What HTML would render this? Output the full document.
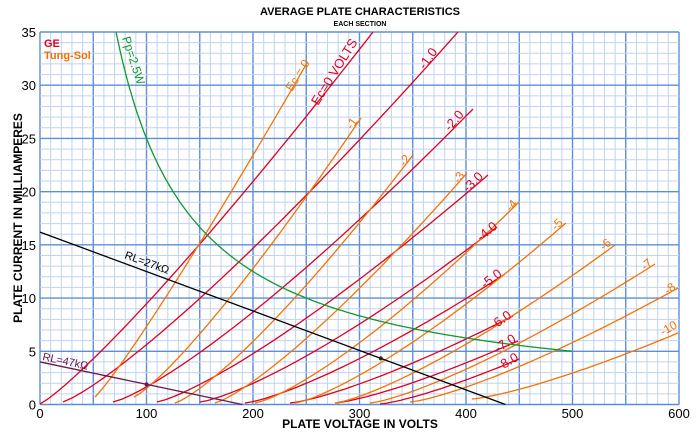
<!DOCTYPE html>
<html><head><meta charset="utf-8"><style>
body{margin:0;background:#fff;width:700px;height:435px;overflow:hidden}
svg{display:block;font-family:"Liberation Sans",sans-serif}
</style></head><body>
<svg id="s" width="700" height="435" viewBox="0 0 700 435">
<g id="grid"></g>
<g id="curves" fill="none" stroke-width="1.3"></g>
<text x="360" y="15" text-anchor="middle" font-size="11" font-weight="bold">AVERAGE PLATE CHARACTERISTICS</text>
<text x="360" y="26" text-anchor="middle" font-size="7" font-weight="bold">EACH SECTION</text>
<text x="360" y="428" text-anchor="middle" font-size="12" font-weight="bold">PLATE VOLTAGE IN VOLTS</text>
<text transform="translate(22,218) rotate(-90)" text-anchor="middle" font-size="12" font-weight="bold">PLATE CURRENT IN MILLIAMPERES</text>
<text x="44" y="47" font-size="11" font-weight="bold" fill="#e0001b">GE</text>
<text x="44" y="59" font-size="11" font-weight="bold" fill="#f07000">Tung-Sol</text>
<g id="labels"></g>
</svg>
<script>
var X0=40,XS=639/600,Y0=404.5,YS=372.5/35,NS="http://www.w3.org/2000/svg";
function px(v){return X0+v*XS}function py(i){return Y0-i*YS}
function el(p,t,a,txt){var e=document.createElementNS(NS,t);for(var k in a)e.setAttribute(k,a[k]);if(txt!=null)e.textContent=txt;document.getElementById(p).appendChild(e);return e}
for(var v=0;v<=600;v+=10){var maj=v%50==0;el("grid","line",{x1:px(v),x2:px(v),y1:py(0),y2:py(35),stroke:maj?"#5d8fd8":"#c0d3f0","stroke-width":maj?1.4:1})}
for(var i=0;i<=35;i+=1){var maj=i%5==0;el("grid","line",{x1:px(0),x2:px(600),y1:py(i),y2:py(i),stroke:maj?"#5d8fd8":"#c0d3f0","stroke-width":maj?1.4:1})}
for(var v=0;v<=600;v+=100)el("grid","text",{x:px(v),y:418,"text-anchor":"middle","font-size":13},v);
for(var i=0;i<=35;i+=5)el("grid","text",{x:36,y:py(i)+5,"text-anchor":"end","font-size":13},i);
function curve(xs,ys,xe,ye,n,col){var d="";for(var k=0;k<=40;k++){var t=k/40,x=xs+(xe-xs)*t,y=ys-(ys-ye)*Math.pow(t,n);d+=(k?"L":"M")+x.toFixed(1)+" "+y.toFixed(1)}el("curves","path",{d:d,stroke:col})}
var R="#e0001b",O="#f57300";
curve(40,404,373,32,1.15,R);
curve(63,402,458,32,1.2,R);
curve(113,402,473,109,1.25,R);
curve(157,402,488,175,1.25,R);
curve(200,402,497,227,1.3,R);
curve(245,403,505,274,1.3,R);
curve(290,403,513,316,1.3,R);
curve(335,403,518,341,1.3,R);
curve(380,404,519,359,1.3,R);
curve(95,397,307,63,1.1,O);
curve(134,397,361,118,1.2,O);
curve(175,403,413,155,1.25,O);
curve(215,403,467,173,1.25,O);
curve(255,403,519,202,1.3,O);
curve(295,403,566,223,1.3,O);
curve(335,403,615,245,1.3,O);
curve(370,403,655,264,1.3,O);
curve(410,402,678,288,1.3,O);
curve(472,399,678,333,1.3,O);
var d="";for(var v=71.5;v<=500;v+=2){d+=(v==71.5?"M":"L")+px(v).toFixed(1)+" "+py(2500/v).toFixed(1)}el("curves","path",{d:d,stroke:"#12992a"});
el("curves","line",{x1:px(0),y1:py(16.2),x2:px(437),y2:py(0),stroke:"#000"});
el("curves","line",{x1:px(0),y1:py(4.0),x2:px(190),y2:py(0),stroke:"#6a1a4a"});
el("curves","circle",{cx:px(320),cy:py(16.2*(1-320/437)),r:2,fill:"#222"});
el("curves","circle",{cx:px(100),cy:py(4*(1-100/190)),r:2,fill:"#6a1a4a"});
function lab(x,y,a,t,c,fs){el("labels","text",{transform:"translate("+x+","+y+") rotate("+a+")","font-size":fs||11,fill:c},t)}
lab(122,38,72,"Pp=2.5W","#12992a",12);
lab(318,106,-58,"Ec=0 VOLTS",R,13);
lab(292,92,-58,"Ec = 0",O,12);
lab(425,70,-55,"-1.0",R,13);
lab(450,132,-50,"-2.0",R,13);
lab(468,193,-45,"-3.0",R,13);
lab(481,242,-40,"-4.0",R,13);
lab(485,289,-38,"-5.0",R,13);
lab(494,330,-35,"-6.0",R,13);
lab(498,353,-33,"-7.0",R,13);
lab(500,371,-30,"-8.0",R,13);
lab(352,130,-55,"-1",O,12);
lab(405,167,-55,"-2",O,12);
lab(459,184,-55,"-3",O,12);
lab(511,212,-50,"-4",O,12);
lab(556,231,-45,"-5",O,12);
lab(604,251,-42,"-6",O,12);
lab(645,271,-40,"-7",O,12);
lab(668,295,-38,"-8",O,12);
lab(663,336,-30,"-10",O,12);
lab(124,258,20,"RL=27kΩ","#000",11);
lab(42,360,12,"RL=47kΩ","#6a1a4a",11);
</script>
</body></html>
